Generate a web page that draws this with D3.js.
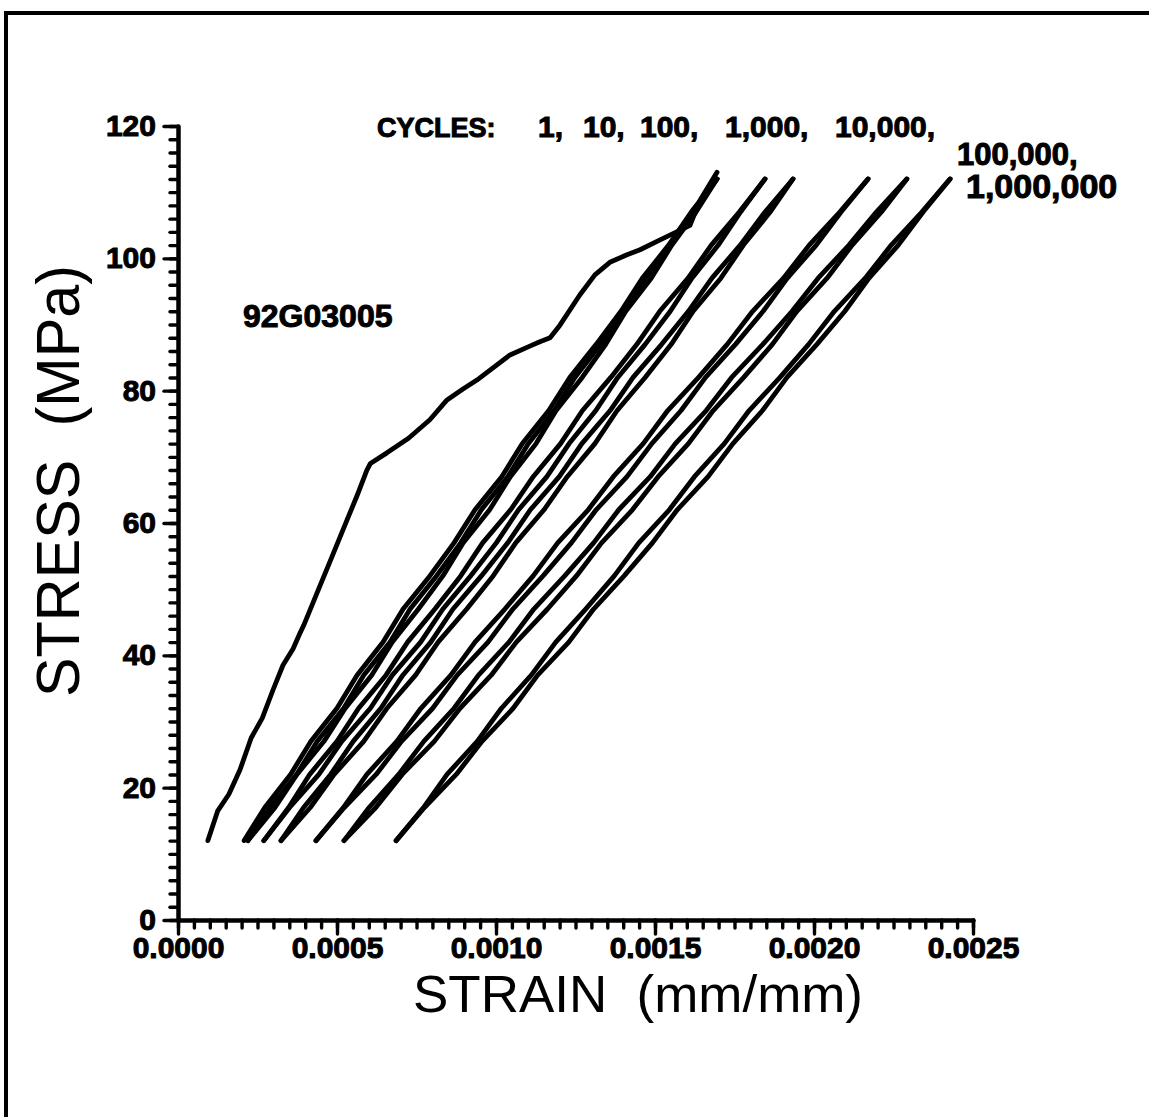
<!DOCTYPE html>
<html>
<head>
<meta charset="utf-8">
<script src="https://cdn.jsdelivr.net/npm/d3@7"></script>
<style>
  body { margin: 0; background: #fff; overflow: hidden; }
  svg { display: block; }
</style>
</head>
<body>
<div id="chart"></div>
<script>
// ---- data (strain in 1e-4 mm/mm, stress in MPa) ----
const xTicks = [0, 0.0005, 0.0010, 0.0015, 0.0020, 0.0025];
const yTicks = [0, 20, 40, 60, 80, 100, 120];

// stress levels read for the linear loops
const stressLevels = [12, 17, 22, 27, 32, 37, 42, 47, 52, 57, 62, 67, 72, 77, 82, 87, 92, 97, 102, 107, 112];

// cycle 1 loading branch (non-linear)
const c1LoadStrain = [0.94, 1.25, 1.60, 1.95, 2.30, 2.65, 2.99, 3.30, 3.62, 3.84, 3.95, 4.37, 4.85, 5.31, 5.62, 5.94, 6.05, 6.57, 7.25, 7.92, 8.46, 8.95, 9.40, 10.44, 11.10, 11.38, 11.70, 12.01, 12.64, 13.11, 13.58, 14.10, 14.53, 15.16, 15.60, 16.10, 16.42, 16.95];
const c1LoadStress = [12, 16.5, 19.0, 22.7, 27.5, 30.5, 34.8, 38.5, 41.0, 43.4, 44.5, 49.4, 55.0, 60.4, 64.0, 68.0, 69.0, 70.6, 72.8, 75.6, 78.6, 80.2, 81.6, 85.4, 86.8, 87.4, 88.0, 89.9, 94.5, 97.5, 99.4, 100.5, 101.3, 102.8, 103.8, 105.0, 108.8, 113.0];

// strain at each stress level, one array per branch
const c1Unload   = [2.08, 2.73, 3.54, 4.18, 5.00, 5.63, 6.45, 7.08, 7.92, 8.68, 9.34, 10.18, 10.83, 11.66, 12.32, 13.15, 13.93, 14.60, 15.43, 16.14, 16.95];
const c10Load    = [2.20, 3.05, 3.74, 4.59, 5.26, 6.09, 6.74, 7.56, 8.33, 8.97, 9.80, 10.45, 11.26, 11.89, 12.71, 13.45, 14.08, 14.88, 15.53, 16.29, 16.95];
const c10Unload  = [2.20, 2.90, 3.73, 4.38, 5.21, 5.84, 6.67, 7.30, 8.13, 8.89, 9.54, 10.37, 11.02, 11.83, 12.48, 13.29, 14.05, 14.70, 15.51, 16.18, 16.95];
const c100Load   = [2.70, 3.51, 4.43, 5.15, 6.05, 6.74, 7.63, 8.33, 9.20, 10.01, 10.71, 11.60, 12.30, 13.14, 13.83, 14.69, 15.48, 16.16, 16.99, 17.69, 18.46];
const c100Unload = [2.70, 3.48, 4.14, 5.00, 5.68, 6.54, 7.22, 8.08, 8.89, 9.58, 10.46, 11.17, 12.03, 12.72, 13.61, 14.43, 15.15, 16.04, 16.77, 17.65, 18.46];
const c1kLoad    = [3.24, 4.16, 4.91, 5.84, 6.57, 7.47, 8.18, 9.08, 9.91, 10.62, 11.51, 12.24, 13.11, 13.81, 14.69, 15.51, 16.20, 17.07, 17.78, 18.62, 19.34];
const c1kUnload  = [3.24, 3.95, 4.80, 5.51, 6.38, 7.07, 7.95, 8.65, 9.54, 10.37, 11.08, 11.99, 12.70, 13.59, 14.31, 15.21, 16.05, 16.79, 17.68, 18.46, 19.34];
const c10kLoad   = [4.34, 5.23, 6.23, 7.03, 8.01, 8.78, 9.75, 10.53, 11.48, 12.37, 13.15, 14.12, 14.90, 15.82, 16.59, 17.53, 18.40, 19.16, 20.07, 20.85, 21.70];
const c10kUnload = [4.34, 5.20, 5.94, 6.88, 7.64, 8.58, 9.34, 10.28, 11.17, 11.94, 12.90, 13.69, 14.63, 15.40, 16.37, 17.27, 18.07, 19.04, 19.85, 20.81, 21.70];
const c100kLoad  = [5.22, 6.22, 7.05, 8.06, 8.87, 9.85, 10.64, 11.62, 12.53, 13.32, 14.29, 15.10, 16.05, 16.83, 17.79, 18.69, 19.46, 20.41, 21.20, 22.12, 22.92];
const c100kUnload= [5.22, 6.01, 6.94, 7.73, 8.68, 9.45, 10.41, 11.19, 12.16, 13.07, 13.86, 14.85, 15.64, 16.61, 17.41, 18.39, 19.31, 20.13, 21.10, 21.96, 22.92];
const c1mLoad    = [6.86, 7.75, 8.75, 9.56, 10.54, 11.31, 12.29, 13.07, 14.03, 14.92, 15.70, 16.67, 17.45, 18.38, 19.15, 20.09, 20.97, 21.73, 22.65, 23.43, 24.28];
const c1mUnload  = [6.86, 7.72, 8.46, 9.41, 10.17, 11.11, 11.88, 12.82, 13.72, 14.49, 15.45, 16.24, 17.18, 17.96, 18.93, 19.83, 20.64, 21.61, 22.43, 23.39, 24.28];

const linearBranches = [c1Unload, c10Load, c10Unload, c100Load, c100Unload, c1kLoad, c1kUnload,
                        c10kLoad, c10kUnload, c100kLoad, c100kUnload, c1mLoad, c1mUnload];

// ---- layout ----
const W = 1149, H = 1117;
const svg = d3.select("#chart").append("svg")
  .attr("width", W)
  .attr("height", H);

// frame: only the left and top edges are on the page
svg.append("path")
  .attr("d", "M6," + H + "V13H" + W)
  .attr("fill", "none")
  .attr("stroke", "#000")
  .attr("stroke-width", 4);

const x = d3.scaleLinear().domain([0, 0.0025]).range([178, 973]);
const y = d3.scaleLinear().domain([0, 120]).range([920, 126]);

const boldFont = "'Liberation Sans', Arial, sans-serif";

// minor ticks
svg.append("g")
  .attr("transform", "translate(0,920)")
  .call(d3.axisBottom(x).tickValues(d3.range(0, 51).map(i => i * 0.00005)).tickSize(8).tickSizeOuter(0).tickFormat(""))
  .call(g => g.select(".domain").remove());
svg.append("g")
  .attr("transform", "translate(178,0)")
  .call(d3.axisLeft(y).tickValues(d3.range(0, 61).map(i => i * 2)).tickSize(8).tickSizeOuter(0).tickFormat(""))
  .call(g => g.select(".domain").remove());

// major ticks + labels
let xAxis = svg.append("g")
  .attr("transform", "translate(0,920)")
  .call(d3.axisBottom(x).tickValues(xTicks).tickSize(14).tickSizeOuter(0).tickPadding(3).tickFormat(d3.format(".4f")));
let yAxis = svg.append("g")
  .attr("transform", "translate(178,0)")
  .call(d3.axisLeft(y).tickValues(yTicks).tickSize(14).tickSizeOuter(0).tickPadding(8).tickFormat(d3.format("d")));

svg.selectAll(".tick line")
  .attr("stroke", "#000")
  .attr("stroke-width", 3.4)
  .attr("stroke-linecap", "round");
svg.selectAll(".domain")
  .attr("stroke", "#000")
  .attr("stroke-width", 4.5)
  .attr("stroke-linecap", "round");
svg.selectAll(".tick text")
  .attr("fill", "#000")
  .attr("stroke", "#000")
  .attr("stroke-width", 1)
  .style("font-family", boldFont)
  .style("font-weight", "bold")
  .style("font-size", "30px");

// ---- curves ----
const line = d3.line()
  .x(d => x(d[0] * 1e-4))
  .y(d => y(d[1]));

const curves = [c1LoadStrain.map((e, i) => [e, c1LoadStress[i]])]
  .concat(linearBranches.map(arr => arr.map((e, i) => [e, stressLevels[i]])));

svg.append("g")
  .selectAll("path")
  .data(curves)
  .join("path")
  .attr("d", line)
  .attr("fill", "none")
  .attr("stroke", "#000")
  .attr("stroke-width", 4.8)
  .attr("stroke-linejoin", "round")
  .attr("stroke-linecap", "round");

// ---- annotations ----
function boldText(txt, px, py, size) {
  return svg.append("text")
    .text(txt)
    .attr("x", px).attr("y", py)
    .attr("fill", "#000")
    .attr("stroke", "#000")
    .attr("stroke-width", 1)
    .style("font-family", boldFont)
    .style("font-weight", "bold")
    .style("font-size", size + "px");
}

const cycleWords = ["CYCLES:", "1,", "10,", "100,", "1,000,", "10,000,"];
const cycleX = [377, 538, 583, 640, 725, 835];
cycleWords.forEach((w, i) => boldText(w, cycleX[i], 137, i == 0 ? 27 : 30));
boldText("100,000,", 957, 165, 31);
boldText("1,000,000", 966, 198, 34);
boldText("92G03005", 243, 327, 32);

// axis titles
svg.append("text")
  .text("STRAIN  (mm/mm)")
  .attr("x", 413).attr("y", 1012)
  .attr("textLength", 450)
  .attr("lengthAdjust", "spacingAndGlyphs")
  .style("white-space", "pre")
  .style("font-family", "'Liberation Sans', Arial, sans-serif")
  .style("font-size", "52px");

svg.append("text")
  .text("STRESS  (MPa)")
  .attr("transform", "translate(79,697) rotate(-90)")
  .attr("textLength", 432)
  .attr("lengthAdjust", "spacingAndGlyphs")
  .style("white-space", "pre")
  .style("font-family", "'Liberation Sans', Arial, sans-serif")
  .style("font-size", "62px");
</script>
</body>
</html>
